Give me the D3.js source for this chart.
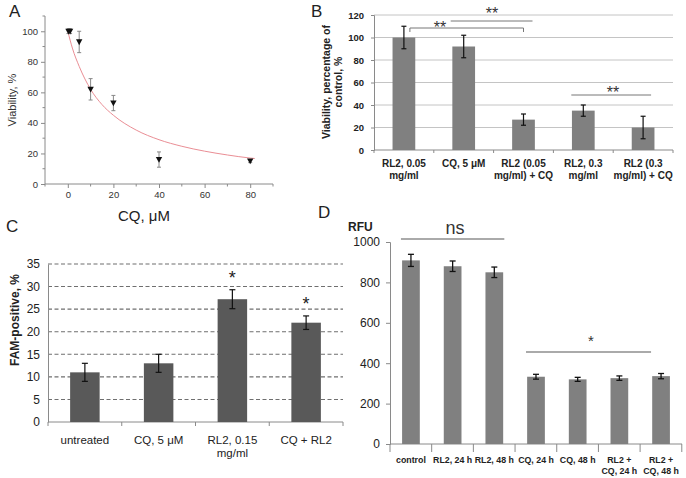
<!DOCTYPE html>
<html><head><meta charset="utf-8">
<script src="https://cdn.jsdelivr.net/npm/d3@7"></script>
<style>body{margin:0;background:#fff}svg{display:block;font-family:"Liberation Sans",Arial,sans-serif}</style>
</head><body><svg id="c" width="686" height="478"></svg>
<script>
// ---------- Panel A data ----------
const aDose = [0.3, 1, 5, 10, 20, 40, 80];
const aVal = [100, 100, 93, 62, 53, 16, 15];
const aErr = [1.5, 1.5, 7, 7, 5, 5, 1];
const aFitX = [0, 2, 5, 10, 15, 20, 30, 40, 50, 60, 70, 80, 82];
const aFitY = [100, 89, 77, 62, 52, 45, 35.3, 29, 24.7, 21.5, 19, 17, 16.7];
const aYTicks = [0, 20, 40, 60, 80, 100];
const aXTicks = [0, 20, 40, 60, 80];
// ---------- Panel B data ----------
const bCats = [["RL2, 0.05","mg/ml"],["CQ, 5 \u03bcM"],["RL2 (0.05","mg/ml) + CQ"],["RL2, 0.3","mg/ml"],["RL2 (0.3","mg/ml) + CQ"]];
const bVal = [100, 92, 27, 35, 20];
const bErr = [10, 10, 5, 5, 10];
const bTicks = [0, 20, 40, 60, 80, 100, 120];
// ---------- Panel C data ----------
const cCats = [["untreated"],["CQ, 5 \u03bcM"],["RL2, 0.15","mg/ml"],["CQ + RL2"]];
const cVal = [11, 13, 27.2, 22];
const cErr = [2, 2, 2.1, 1.5];
const cStars = ["", "", "*", "*"];
const cTicks = [0, 5, 10, 15, 20, 25, 30, 35];
// ---------- Panel D data ----------
const dCats = [["control"],["RL2, 24 h"],["RL2, 48 h"],["CQ, 24 h"],["CQ, 48 h"],["RL2 +","CQ, 24 h"],["RL2 +","CQ, 48 h"]];
const dVal = [909, 880, 850, 333, 320, 326, 336];
const dErr = [30, 26, 26, 12, 10, 11, 13];
const dTicks = [0, 200, 400, 600, 800, 1000];

const svg = d3.select("#c");
const axisCol = "#8a8a8a";

function errBar(g, x, y0, y1, cap, col, w) {
  g.append("line").attr("x1", x).attr("x2", x).attr("y1", y0).attr("y2", y1).attr("stroke", col).attr("stroke-width", w);
  [y0, y1].forEach(y => g.append("line").attr("x1", x - cap/2).attr("x2", x + cap/2).attr("y1", y).attr("y2", y).attr("stroke", col).attr("stroke-width", w));
}
function multiText(g, x, y, lines, lh, attrs) {
  const t = g.append("text").attr("x", x).attr("y", y).attr("text-anchor", "middle");
  Object.entries(attrs).forEach(([k, v]) => t.attr(k, v));
  lines.forEach((l, i) => t.append("tspan").attr("x", x).attr("dy", i ? lh : 0).text(l));
  return t;
}
function letter(x, y, s) {
  svg.append("text").attr("x", x).attr("y", y).attr("font-size", 17).attr("fill", "#222").text(s);
}

// =============== Panel A ===============
{
  const g = svg.append("g");
  const x = d3.scaleLinear().domain([-10, 90]).range([45, 273]);
  const y = d3.scaleLinear().domain([0, 110]).range([184, 16]);
  const ax = g.append("g").attr("transform", "translate(0,184)")
    .call(d3.axisBottom(x).tickValues(aXTicks).tickSize(4).tickFormat(d3.format("d")));
  const ay = g.append("g").attr("transform", "translate(45,0)")
    .call(d3.axisLeft(y).tickValues(aYTicks).tickSize(4).tickFormat(d3.format("d")));
  [ax, ay].forEach(a => {
    a.select(".domain").attr("stroke", axisCol).attr("d", null);
    a.selectAll(".tick line").attr("stroke", axisCol);
    a.selectAll("text").attr("font-size", 9.5).attr("fill", "#333");
  });
  g.append("line").attr("x1", 45).attr("x2", 273).attr("y1", 184).attr("y2", 184).attr("stroke", axisCol);
  g.append("line").attr("x1", 45).attr("x2", 45).attr("y1", 16).attr("y2", 184).attr("stroke", axisCol);
  d3.range(-10, 91, 10).filter(v => v % 20 !== 0).forEach(v =>
    g.append("line").attr("x1", x(v)).attr("x2", x(v)).attr("y1", 184).attr("y2", 186.5).attr("stroke", axisCol));
  d3.range(10, 111, 10).filter(v => v % 20 !== 0).forEach(v =>
    g.append("line").attr("x1", 45).attr("x2", 42.5).attr("y1", y(v)).attr("y2", y(v)).attr("stroke", axisCol));
  g.append("path").datum(aFitX.map((d, i) => [d, aFitY[i]]))
    .attr("d", d3.line().x(d => x(d[0])).y(d => y(d[1])).curve(d3.curveMonotoneX))
    .attr("fill", "none").attr("stroke", "#ea8e95").attr("stroke-width", 1);
  aDose.forEach((d, i) => {
    errBar(g, x(d), y(aVal[i] + aErr[i]), y(aVal[i] - aErr[i]), 4, "#888", 1);
  });
  g.selectAll(".m").data(aDose).join("path")
    .attr("transform", (d, i) => `translate(${x(d)},${y(aVal[i])})`)
    .attr("d", "M-3.2,-2.6L3.2,-2.6L0,3.2Z").attr("fill", "#111");
  g.append("text").attr("transform", "translate(16,100) rotate(-90)").attr("text-anchor", "middle")
    .attr("font-size", 11).attr("fill", "#333").text("Viability, %");
  g.append("text").attr("x", 144).attr("y", 221).attr("text-anchor", "middle")
    .attr("font-size", 15).attr("fill", "#222").text("CQ, \u03bcM");
  letter(9, 17, "A");
}

// =============== Panel B ===============
{
  const g = svg.append("g");
  const x = d3.scaleBand().domain(d3.range(bVal.length)).range([374, 673]).paddingInner(0.62).paddingOuter(0.31);
  const y = d3.scaleLinear().domain([0, 120]).range([150, 15]);
  bTicks.filter(t => t > 0).forEach(t =>
    g.append("line").attr("x1", 374).attr("x2", 673).attr("y1", y(t)).attr("y2", y(t)).attr("stroke", "#c4c4c4"));
  const ay = g.append("g").attr("transform", "translate(374,0)").call(d3.axisLeft(y).tickValues(bTicks).tickSize(3));
  ay.select(".domain").attr("stroke", axisCol);
  ay.selectAll(".tick line").attr("stroke", axisCol);
  ay.selectAll("text").attr("font-size", 9.5).attr("font-weight", "bold").attr("fill", "#222").attr("dx", -4);
  g.append("line").attr("x1", 374).attr("x2", 673).attr("y1", 150).attr("y2", 150).attr("stroke", axisCol);
  const step = x.step();
  d3.range(bVal.length + 1).forEach(i =>
    g.append("line").attr("x1", 374 + i * step).attr("x2", 374 + i * step).attr("y1", 150).attr("y2", 153).attr("stroke", axisCol));
  g.selectAll(".bar").data(bVal).join("rect")
    .attr("x", (d, i) => x(i)).attr("width", x.bandwidth())
    .attr("y", d => y(d)).attr("height", d => 150 - y(d)).attr("fill", "#808080");
  bVal.forEach((d, i) => errBar(g, x(i) + x.bandwidth()/2, y(d + bErr[i]), y(d - bErr[i]), 5, "#111", 1.2));
  bCats.forEach((c, i) => multiText(g, x(i) + x.bandwidth()/2, 167, c, 11.5,
    {"font-size": 10, "font-weight": "bold", "fill": "#222"}));
  multiText(g, 0, 0, ["Viability, percentage of", "control, %"], 11.5,
    {"font-size": 10.5, "font-weight": "bold", "fill": "#222", "transform": "translate(330,82) rotate(-90)"});
  const c = i => x(i) + x.bandwidth()/2;
  const sc = "#777";
  g.append("path").attr("d", `M${c(0)+6},32V28H${c(2)}V32`).attr("fill", "none").attr("stroke", sc);
  g.append("text").attr("x", 440).attr("y", 33).attr("text-anchor", "middle").attr("font-size", 16).attr("fill", "#333").text("**");
  g.append("line").attr("x1", c(1) - 13).attr("x2", c(2) + 9).attr("y1", 21).attr("y2", 21).attr("stroke", sc);
  g.append("text").attr("x", 492).attr("y", 19).attr("text-anchor", "middle").attr("font-size", 16).attr("fill", "#333").text("**");
  g.append("line").attr("x1", c(3) - 12).attr("x2", c(4) + 8).attr("y1", 95).attr("y2", 95).attr("stroke", sc);
  g.append("text").attr("x", 613).attr("y", 98).attr("text-anchor", "middle").attr("font-size", 16).attr("fill", "#333").text("**");
  letter(311, 17, "B");
}

// =============== Panel C ===============
{
  const g = svg.append("g");
  const x = d3.scaleBand().domain(d3.range(cVal.length)).range([48, 343]).paddingInner(0.6).paddingOuter(0.3);
  const y = d3.scaleLinear().domain([0, 35]).range([422, 264]);
  cTicks.filter(t => t > 0).forEach(t =>
    g.append("line").attr("x1", 48).attr("x2", 343).attr("y1", y(t)).attr("y2", y(t))
      .attr("stroke", "#6f6f6f").attr("stroke-width", 1.1).attr("stroke-dasharray", "4,2.5"));
  const ay = g.append("g").attr("transform", "translate(48,0)").call(d3.axisLeft(y).tickValues(cTicks).tickSize(0));
  ay.select(".domain").attr("stroke", axisCol);
  ay.selectAll("text").attr("font-size", 12).attr("fill", "#222").attr("dx", -5);
  g.append("line").attr("x1", 48).attr("x2", 343).attr("y1", 422).attr("y2", 422).attr("stroke", axisCol);
  const step = x.step();
  d3.range(cVal.length + 1).forEach(i =>
    g.append("line").attr("x1", 48 + i * step).attr("x2", 48 + i * step).attr("y1", 422).attr("y2", 426).attr("stroke", axisCol));
  g.selectAll(".bar").data(cVal).join("rect")
    .attr("x", (d, i) => x(i)).attr("width", x.bandwidth())
    .attr("y", d => y(d)).attr("height", d => 422 - y(d)).attr("fill", "#595959");
  cVal.forEach((d, i) => errBar(g, x(i) + x.bandwidth()/2, y(d + cErr[i]), y(d - cErr[i]), 6, "#111", 1.2));
  cStars.forEach((s, i) => { if (s) g.append("text").attr("x", x(i) + x.bandwidth()/2)
    .attr("y", y(cVal[i] + cErr[i]) - 6).attr("text-anchor", "middle").attr("font-size", 18).attr("fill", "#222").text(s); });
  cCats.forEach((c, i) => multiText(g, x(i) + x.bandwidth()/2, 444, c, 12.5,
    {"font-size": 11.5, "fill": "#222"}));
  g.append("text").attr("transform", "translate(19,320) rotate(-90)").attr("text-anchor", "middle")
    .attr("font-size", 12).attr("font-weight", "bold").attr("fill", "#222").text("FAM-positive, %");
  letter(6, 232, "C");
}

// =============== Panel D ===============
{
  const g = svg.append("g");
  const x = d3.scaleBand().domain(d3.range(dVal.length)).range([390, 682]).paddingInner(0.575).paddingOuter(0.29);
  const y = d3.scaleLinear().domain([0, 1000]).range([444, 242]);
  const ay = g.append("g").attr("transform", "translate(390,0)")
    .call(d3.axisLeft(y).tickValues(dTicks).tickSize(4).tickFormat(d3.format("d")));
  ay.select(".domain").attr("stroke", axisCol);
  ay.selectAll(".tick line").attr("stroke", axisCol);
  ay.selectAll("text").attr("font-size", 12).attr("fill", "#222").attr("dx", -3);
  g.append("line").attr("x1", 390).attr("x2", 682).attr("y1", 444).attr("y2", 444).attr("stroke", axisCol);
  const step = x.step();
  d3.range(dVal.length + 1).forEach(i =>
    g.append("line").attr("x1", 390 + i * step).attr("x2", 390 + i * step).attr("y1", 444).attr("y2", 452).attr("stroke", axisCol));
  g.selectAll(".bar").data(dVal).join("rect")
    .attr("x", (d, i) => x(i)).attr("width", x.bandwidth())
    .attr("y", d => y(d)).attr("height", d => 444 - y(d)).attr("fill", "#808080");
  dVal.forEach((d, i) => errBar(g, x(i) + x.bandwidth()/2, y(d + dErr[i]), y(d - dErr[i]), 6, "#111", 1.3));
  dCats.forEach((c, i) => multiText(g, x(i) + x.bandwidth()/2, 463, c, 10.5,
    {"font-size": 8.8, "font-weight": "bold", "fill": "#222"}));
  g.append("text").attr("x", 348).attr("y", 231).attr("font-size", 12).attr("font-weight", "bold").attr("fill", "#222").text("RFU");
  const c = i => x(i) + x.bandwidth()/2;
  g.append("line").attr("x1", c(0) - 10).attr("x2", c(2) + 10).attr("y1", 239).attr("y2", 239).attr("stroke", "#aaa").attr("stroke-width", 2);
  g.append("text").attr("x", 455).attr("y", 234).attr("text-anchor", "middle").attr("font-size", 18).attr("fill", "#333").text("ns");
  g.append("line").attr("x1", c(3) - 10).attr("x2", c(6) - 10).attr("y1", 352).attr("y2", 352).attr("stroke", "#aaa").attr("stroke-width", 2);
  g.append("text").attr("x", 591).attr("y", 346).attr("text-anchor", "middle").attr("font-size", 15).attr("fill", "#333").text("*");
  letter(318, 218, "D");
}
</script></body></html>
